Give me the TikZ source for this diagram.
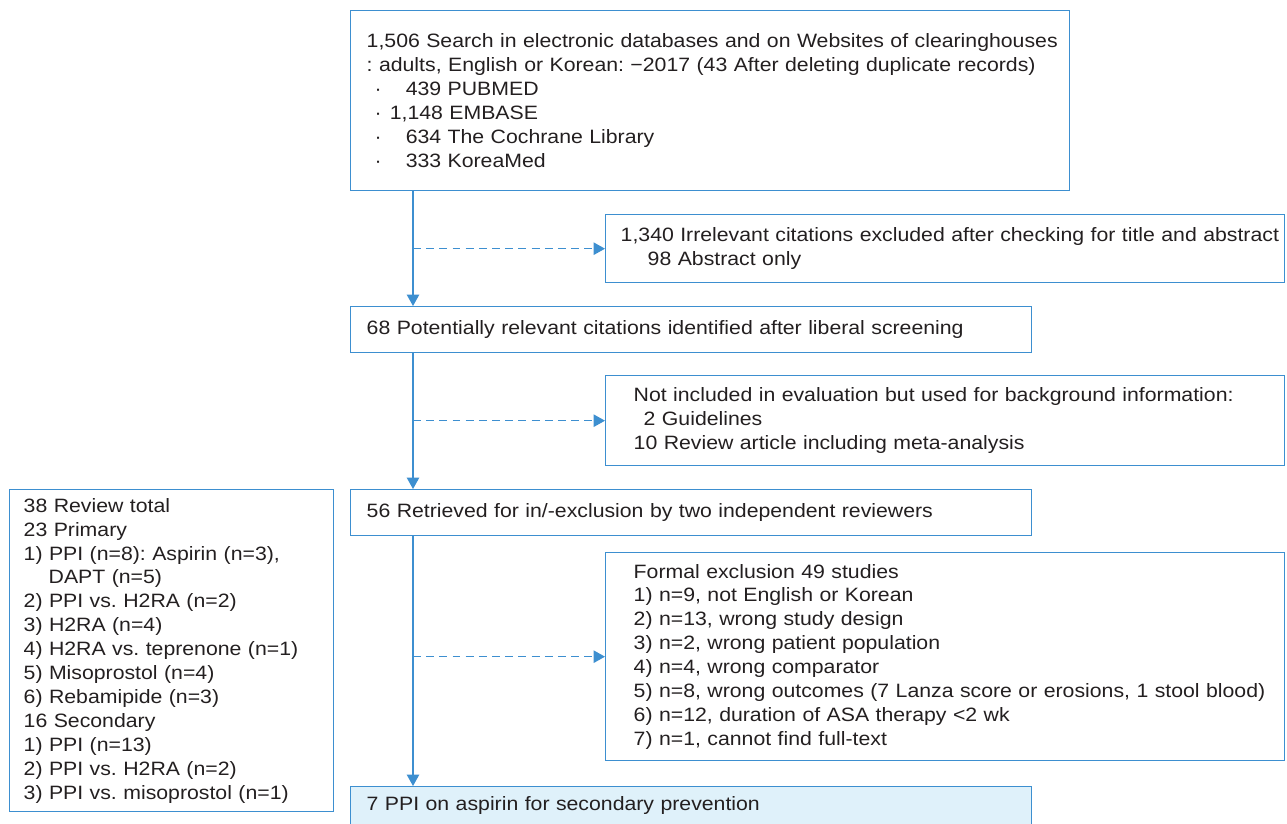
\documentclass[tikz,border=0pt]{standalone}
\usepackage{fontspec}
\setmainfont{Liberation Sans}[FakeStretch=1.1]
\frenchspacing
\usetikzlibrary{positioning, calc, arrows.meta}
\definecolor{flowblue}{RGB}{61,143,208}
\definecolor{flowfill}{RGB}{223,241,250}
\definecolor{flowtext}{RGB}{35,31,32}
\newcommand{\fullline}[1]{\makebox[\linewidth][l]{#1}}
\tikzset{box/.style={draw=flowblue, text=flowtext, line width=0.8pt, align=left, anchor=north west, inner ysep=0pt, font=\fontsize{11}{13.6}\selectfont}}
\tikzset{wide/.style={text width=12.98cm, inner xsep=0.32cm, minimum height=0.92cm}}
\tikzset{side/.style={text width=12.46cm, inner xsep=0.56cm}}
\tikzset{flow/.style={draw=flowblue, line width=0.8pt, -{Triangle[length=2.3mm, width=2.5mm]}}}
\tikzset{dashflow/.style={flow, dash pattern=on 4.5pt off 3pt}}

\begin{document}
\begin{tikzpicture}[x=0.02cm, y=-0.02cm]

  \useasboundingbox (0,0) rectangle (1287,824);
  \coordinate (trunk) at (413,0);

  \node[box, text width=13.74cm, inner xsep=0.32cm, minimum height=3.6cm] (search) at (350,10) {\fullline{1,506 Search in electronic databases and on Websites of clearinghouses}\\
  \fullline{: adults, English or Korean: −2017 (43 After deleting duplicate records)}\\
  \hspace{0.16cm}·\hspace{0.48cm}439 PUBMED\\
  \hspace{0.16cm}·\hspace{0.16cm}1,148 EMBASE\\
  \hspace{0.16cm}·\hspace{0.48cm}634 The Cochrane Library\\
  \hspace{0.16cm}·\hspace{0.48cm}333 KoreaMed};

  \node[box, text width=12.98cm, inner xsep=0.3cm, minimum height=1.36cm] (irrel) at (605,214) {\fullline{1,340 Irrelevant citations excluded after checking for title and abstract}\\
  \hspace{0.54cm}98 Abstract only};

  \node[box, wide] (relevant) at (350,306) {68 Potentially relevant citations identified after liberal screening};

  \node[box, side, minimum height=1.8cm] (backgr) at (605,375) {Not included in evaluation but used for background information:\\
  \hspace{0.2cm}2 Guidelines\\
  10 Review article including meta-analysis};

  \node[box, wide] (retrieved) at (350,489) {56 Retrieved for in/-exclusion by two independent reviewers};

  \node[box, text width=5.92cm, inner xsep=0.28cm, minimum height=6.44cm] (review) at (9,489) {38 Review total\\
  23 Primary\\
  1) PPI (n=8): Aspirin (n=3),\\
  \hspace{0.5cm}DAPT (n=5)\\
  2) PPI vs. H2RA (n=2)\\
  3) H2RA (n=4)\\
  4) H2RA vs. teprenone (n=1)\\
  5) Misoprostol (n=4)\\
  6) Rebamipide (n=3)\\
  16 Secondary\\
  1) PPI (n=13)\\
  2) PPI vs. H2RA (n=2)\\
  3) PPI vs. misoprostol (n=1)};

  \node[box, side, minimum height=4.16cm] (formal) at (605,552) {Formal exclusion 49 studies\\
  1) n=9, not English or Korean\\
  2) n=13, wrong study design\\
  3) n=2, wrong patient population\\
  4) n=4, wrong comparator\\
  \fullline{5) n=8, wrong outcomes (7 Lanza score or erosions, 1 stool blood)}\\
  6) n=12, duration of ASA therapy <2 wk\\
  7) n=1, cannot find full-text};

  \node[box, wide, fill=flowfill, minimum height=0.76cm] (final) at (350,786) {7 PPI on aspirin for secondary prevention};

  \draw[flow] (search.south -| trunk) -- (relevant.north -| trunk);
  \draw[flow] (relevant.south -| trunk) -- (retrieved.north -| trunk);
  \draw[flow] (retrieved.south -| trunk) -- (final.north -| trunk);

  \draw[dashflow] (trunk |- irrel.west) -- (irrel.west);
  \draw[dashflow] (trunk |- backgr.west) -- (backgr.west);
  \draw[dashflow] (trunk |- formal.west) -- (formal.west);

\end{tikzpicture}
\end{document}
